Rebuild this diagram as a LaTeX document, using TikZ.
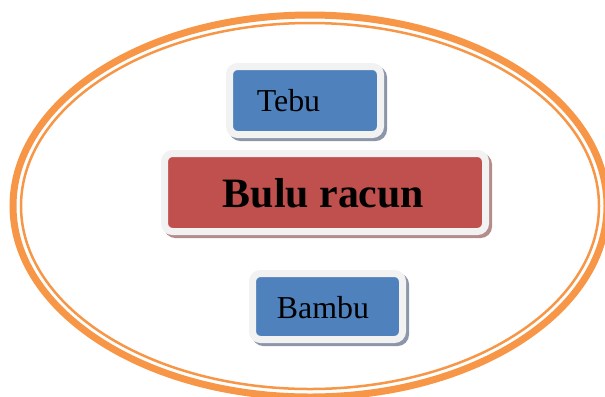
\documentclass[tikz,border=0pt]{standalone}
\usepackage{xcolor}
\usepackage{tikz}
\usepackage{fontspec}
\setmainfont{Liberation Serif}
\usetikzlibrary{shadows, calc}
\definecolor{ringorange}{RGB}{247, 150, 70}
\definecolor{plantblue}{RGB}{79, 129, 189}
\definecolor{poisonred}{RGB}{192, 80, 77}
\definecolor{rimgray}{RGB}{242, 242, 242}
\definecolor{blueshade}{RGB}{140, 150, 168}
\definecolor{redshade}{RGB}{180, 140, 140}
\tikzset{
    tile/.style={rounded corners=8bp, draw=rimgray, line width=7bp, inner sep=0pt},
    bluetile/.style={tile, fill=plantblue,
        drop shadow={shadow xshift=3bp, shadow yshift=-3bp, opacity=1,
                     fill=blueshade, draw=blueshade, line width=7bp}},
    redtile/.style={tile, fill=poisonred,
        drop shadow={shadow xshift=3bp, shadow yshift=-3bp, opacity=1,
                     fill=redshade, draw=redshade, line width=7bp}},
    plantlabel/.style={inner sep=0pt, font=\fontsize{32}{36}\selectfont}
}

\begin{document}
\begin{tikzpicture}[x=1bp, y=-1bp]
        \useasboundingbox (0,0) rectangle (605,396);
        \clip (0,0) rectangle (605,396);
        % double ring
        \draw[ringorange, line width=7bp] (310,206) ellipse [x radius=297, y radius=191];
        \draw[ringorange, line width=2.5bp] (310,206) ellipse [x radius=289, y radius=183];
        % boxes
        \node[bluetile, minimum width=151bp, minimum height=68bp] (tebu) at (305,100.5) {};
        \node[redtile, minimum width=321bp, minimum height=78bp] (bulu) at (325,192.5) {};
        \node[bluetile, minimum width=150bp, minimum height=66bp] (bambu) at (327.5,306.5) {};
        % texts
        \node[plantlabel] (tebutext) at (288.5,101) {Tebu};
        \node[inner sep=0pt, font=\fontsize{42}{48}\selectfont\bfseries] (bulutext) at (323.5,193) {Bulu racun};
        \node[plantlabel] (bambutext) at (323,308) {Bambu};
\end{tikzpicture}
\end{document}
